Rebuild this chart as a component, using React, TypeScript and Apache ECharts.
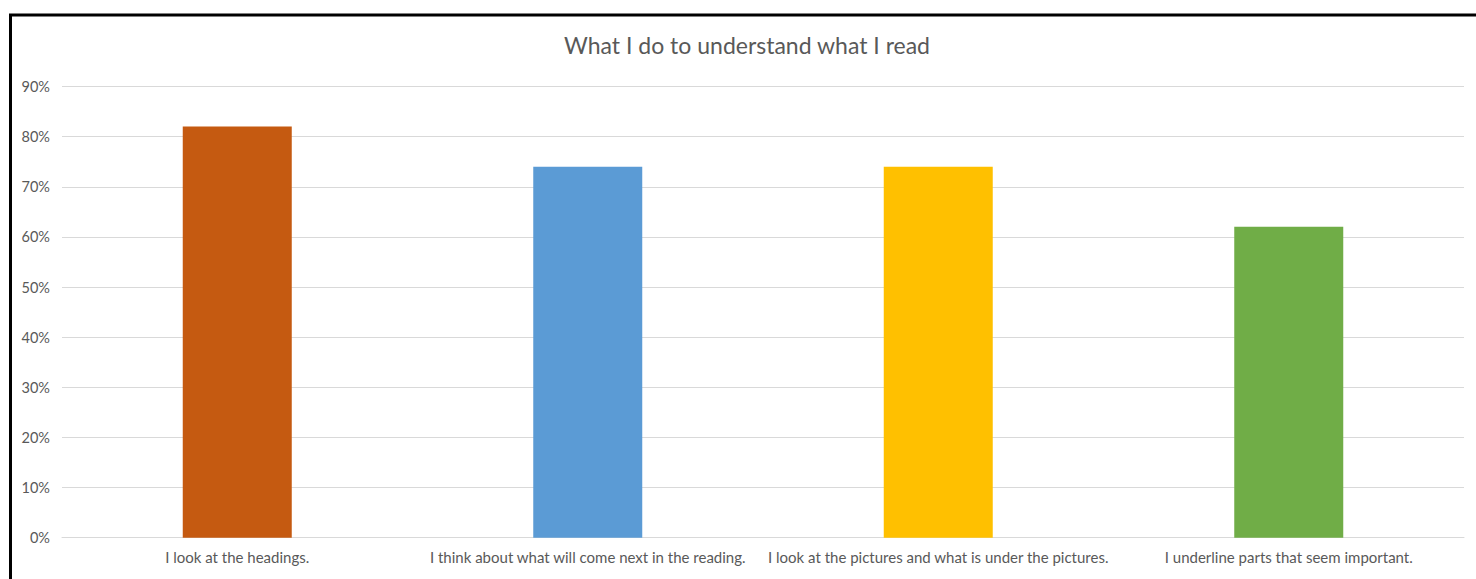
import React, { useEffect, useRef } from "react";
import * as echarts from "echarts";

const categories = [
  "I look at the headings.",
  "I think about what will come next in the reading.",
  "I look at the pictures and what is under the pictures.",
  "I underline parts that seem important.",
];
const values = [82, 74, 74, 62];
const yTicks = [0, 10, 20, 30, 40, 50, 60, 70, 80, 90];
const titleText = "What I do to understand what I read";

const barColors = ["#C55A11", "#5B9BD5", "#FFC000", "#70AD47"];
const FONT = "Lato, 'Open Sans', sans-serif";

export default function App() {
  const ref = useRef<HTMLDivElement>(null);
  useEffect(() => {
    if (!ref.current) return;
    const chart = echarts.init(ref.current, undefined, { renderer: "svg" });
    chart.setOption({
      animation: false,
      backgroundColor: "#ffffff",
      title: {
        text: titleText,
        left: 742,
        top: 28,
        textAlign: "center",
        textStyle: {
          fontFamily: FONT,
          fontSize: 23,
          fontWeight: "normal",
          color: "#595959",
        },
      },
      graphic: [
        {
          type: "rect",
          shape: { x: 10.5, y: 15, width: 1500, height: 600 },
          style: { fill: "none", stroke: "#000000", lineWidth: 3 },
          silent: true,
        },
      ],
      grid: { left: 62, right: 12, top: 86.5, bottom: 41.3, containLabel: false },
      xAxis: {
        type: "category",
        data: categories,
        axisLine: { show: true, lineStyle: { color: "#d9d9d9", width: 1 } },
        axisTick: { show: false },
        axisLabel: {
          interval: 0,
          margin: 12,
          fontFamily: FONT,
          fontSize: 15,
          color: "#595959",
        },
      },
      yAxis: {
        type: "value",
        min: yTicks[0],
        max: yTicks[yTicks.length - 1],
        interval: yTicks[1] - yTicks[0],
        axisLine: { show: false },
        axisTick: { show: false },
        splitLine: { lineStyle: { color: "#d9d9d9", width: 1 } },
        axisLabel: {
          formatter: "{value}%",
          margin: 12,
          fontFamily: FONT,
          fontSize: 14.5,
          color: "#595959",
        },
      },
      series: [
        {
          type: "bar",
          barWidth: 109,
          data: values.map((v, i) => ({
            value: v,
            itemStyle: { color: barColors[i] },
          })),
        },
      ],
    });
    return () => chart.dispose();
  }, []);
  return (
    <div
      ref={ref}
      style={{ position: "fixed", left: 0, top: 0, width: 1476, height: 579 }}
    />
  );
}
